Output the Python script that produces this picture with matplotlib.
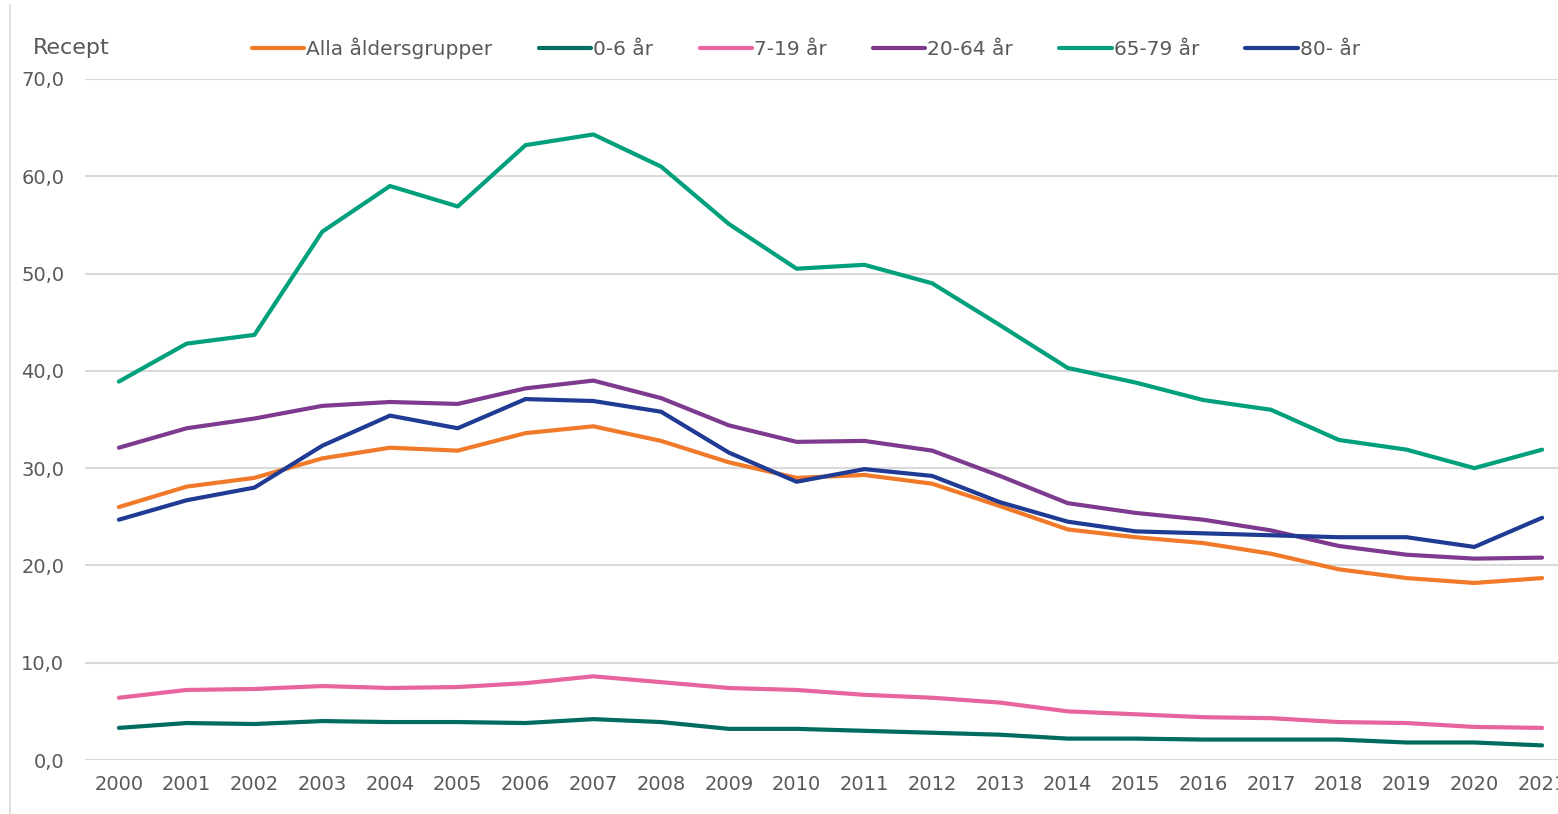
import matplotlib
matplotlib.use('Agg')
import matplotlib.pyplot as plt
from matplotlib.lines import Line2D
from matplotlib.ticker import FuncFormatter

# data (recept per 1000 inv.)
years = [str(y) for y in range(2000, 2022)]
alla = [26.0, 28.1, 29.0, 31.0, 32.1, 31.8, 33.6, 34.3, 32.8, 30.6, 29.0,
        29.3, 28.4, 26.1, 23.7, 22.9, 22.3, 21.2, 19.6, 18.7, 18.2, 18.7]
age_0_6 = [3.3, 3.8, 3.7, 4.0, 3.9, 3.9, 3.8, 4.2, 3.9, 3.2, 3.2,
           3.0, 2.8, 2.6, 2.2, 2.2, 2.1, 2.1, 2.1, 1.8, 1.8, 1.5]
age_7_19 = [6.4, 7.2, 7.3, 7.6, 7.4, 7.5, 7.9, 8.6, 8.0, 7.4, 7.2,
            6.7, 6.4, 5.9, 5.0, 4.7, 4.4, 4.3, 3.9, 3.8, 3.4, 3.3]
age_20_64 = [32.1, 34.1, 35.1, 36.4, 36.8, 36.6, 38.2, 39.0, 37.2, 34.4, 32.7,
             32.8, 31.8, 29.2, 26.4, 25.4, 24.7, 23.6, 22.0, 21.1, 20.7, 20.8]
age_65_79 = [38.9, 42.8, 43.7, 54.3, 59.0, 56.9, 63.2, 64.3, 61.0, 55.1, 50.5,
             50.9, 49.0, 44.7, 40.3, 38.8, 37.0, 36.0, 32.9, 31.9, 30.0, 31.9]
age_80 = [24.7, 26.7, 28.0, 32.3, 35.4, 34.1, 37.1, 36.9, 35.8, 31.6, 28.6,
          29.9, 29.2, 26.5, 24.5, 23.5, 23.3, 23.1, 22.9, 22.9, 21.9, 24.9]

labels = ['Alla åldersgrupper', '0-6 år', '7-19 år', '20-64 år', '65-79 år', '80- år']
series = [alla, age_0_6, age_7_19, age_20_64, age_65_79, age_80]
line_colors = ['#F07A2A', '#006B5F', '#E8649F', '#7E3A8E', '#00A07C', '#1F3B93']

txt_color = '#595959'
grid_color = '#D9D9D9'
W, H = 1558, 814

fig = plt.figure(figsize=(W / 100, H / 100), dpi=100)
ax = fig.add_axes([85 / W, 1 - 760 / H, (1576 - 85) / W, (760 - 79) / H])

x = list(range(len(years)))
for vals, lab, col in zip(series, labels, line_colors):
    ax.plot(x, vals, color=col, lw=3.0, label=lab, solid_capstyle='round',
            solid_joinstyle='round', zorder=3)

ax.set_xlim(-0.5, len(years) - 0.5)
ax.set_ylim(0, 70)
ax.set_yticks(range(0, 71, 10))
ax.yaxis.set_major_formatter(FuncFormatter(lambda v, p: ('%.1f' % v).replace('.', ',')))
ax.set_xticks(x)
ax.set_xticklabels(years)
ax.grid(axis='y', color=grid_color, lw=1.5, zorder=0)
for sp in ax.spines.values():
    sp.set_visible(False)
ax.tick_params(axis='both', length=0, labelsize=14, colors=txt_color)
ax.tick_params(axis='y', pad=15)
ax.tick_params(axis='x', pad=11)

# "Recept" title top left
fig.text(33 / W, 1 - 48 / H, 'Recept', fontsize=16, color=txt_color, va='center', ha='left')

# legend
leg = fig.legend(*ax.get_legend_handles_labels(), loc='center left', ncol=6,
                 bbox_to_anchor=(252 / W, 1 - 48 / H), frameon=False, fontsize=14.5,
                 handlelength=2.6, handletextpad=0.1, columnspacing=2.3,
                 borderaxespad=0, borderpad=0)
for t in leg.get_texts():
    t.set_color(txt_color)

# thin border line at the left edge
fig.add_artist(Line2D([10 / W, 10 / W], [0, 1 - 5 / H], color=grid_color, lw=1.2))

plt.savefig('out.png', dpi=100)
